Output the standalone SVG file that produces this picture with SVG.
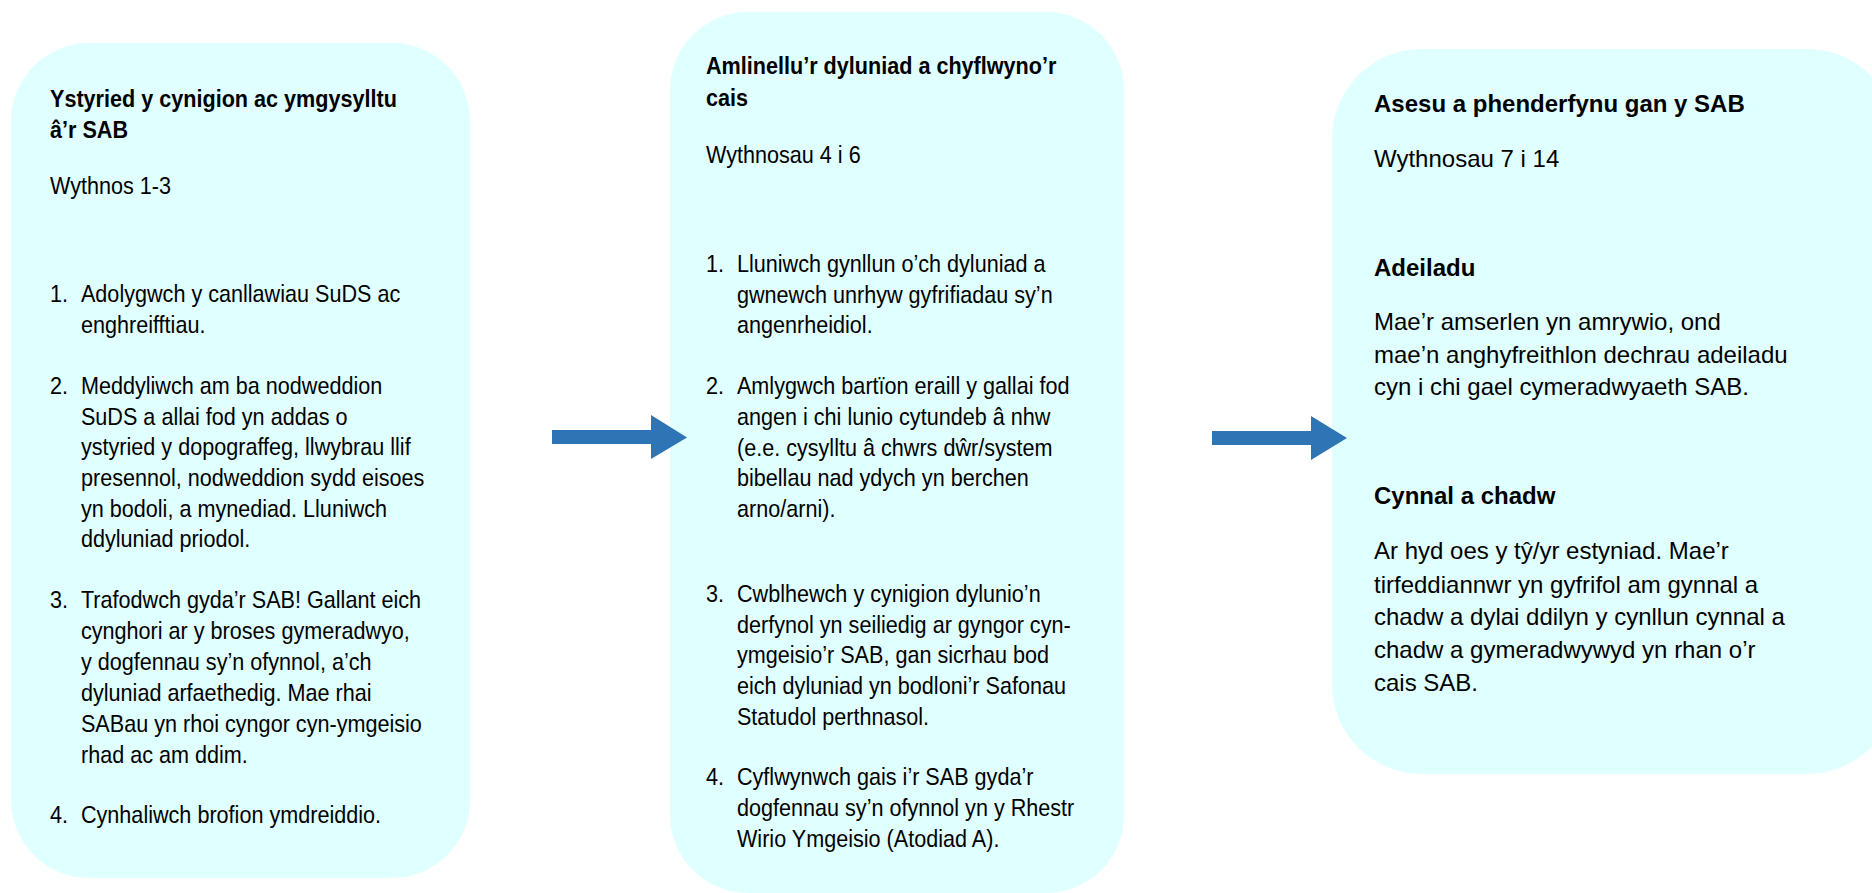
<svg xmlns="http://www.w3.org/2000/svg" width="1872" height="893" viewBox="0 0 1872 893">
<style>
.box{fill:#E0FFFF;stroke:none}
.arrow{fill:#2E75B6;stroke:none}
text{font-family:"Liberation Sans",Arial,sans-serif;font-size:24px;fill:#000}
.b{font-weight:bold}
</style>
<rect x="0" y="0" width="1872" height="893" fill="#fff"/>
<g id="node1">
<rect class="box" x="11" y="43" width="459" height="835" rx="78" ry="78"/>
<g transform="translate(50,0) scale(0.9,1)">
<text class="b" x="0" y="107">Ystyried y cynigion ac ymgysylltu</text>
<text class="b" x="0" y="138">â’r SAB</text>
<text x="0" y="194">Wythnos 1-3</text>
<text x="0" y="302">1.</text>
<text x="34.4" y="302">Adolygwch y canllawiau SuDS ac</text>
<text x="34.4" y="333">enghreifftiau.</text>
<text x="0" y="394">2.</text>
<text x="34.4" y="394">Meddyliwch am ba nodweddion</text>
<text x="34.4" y="425">SuDS a allai fod yn addas o</text>
<text x="34.4" y="455">ystyried y dopograffeg, llwybrau llif</text>
<text x="34.4" y="486">presennol, nodweddion sydd eisoes</text>
<text x="34.4" y="517">yn bodoli, a mynediad. Lluniwch</text>
<text x="34.4" y="547">ddyluniad priodol.</text>
<text x="0" y="608">3.</text>
<text x="34.4" y="608">Trafodwch gyda’r SAB! Gallant eich</text>
<text x="34.4" y="639">cynghori ar y broses gymeradwyo,</text>
<text x="34.4" y="670">y dogfennau sy’n ofynnol, a’ch</text>
<text x="34.4" y="701">dyluniad arfaethedig. Mae rhai</text>
<text x="34.4" y="732">SABau yn rhoi cyngor cyn-ymgeisio</text>
<text x="34.4" y="763">rhad ac am ddim.</text>
<text x="0" y="823">4.</text>
<text x="34.4" y="823">Cynhaliwch brofion ymdreiddio.</text>
</g>
</g>
<g id="node2">
<rect class="box" x="670" y="12" width="454" height="881" rx="78" ry="78"/>
<g transform="translate(706,0) scale(0.9,1)">
<text class="b" x="0" y="74">Amlinellu’r dyluniad a chyflwyno’r</text>
<text class="b" x="0" y="106">cais</text>
<text x="0" y="163">Wythnosau 4 i 6</text>
<text x="0" y="272">1.</text>
<text x="34.4" y="272">Lluniwch gynllun o’ch dyluniad a</text>
<text x="34.4" y="303">gwnewch unrhyw gyfrifiadau sy’n</text>
<text x="34.4" y="333">angenrheidiol.</text>
<text x="0" y="394">2.</text>
<text x="34.4" y="394">Amlygwch bartïon eraill y gallai fod</text>
<text x="34.4" y="425">angen i chi lunio cytundeb â nhw</text>
<text x="34.4" y="456">(e.e. cysylltu â chwrs dŵr/system</text>
<text x="34.4" y="486">bibellau nad ydych yn berchen</text>
<text x="34.4" y="517">arno/arni).</text>
<text x="0" y="602">3.</text>
<text x="34.4" y="602">Cwblhewch y cynigion dylunio’n</text>
<text x="34.4" y="633">derfynol yn seiliedig ar gyngor cyn-</text>
<text x="34.4" y="663">ymgeisio’r SAB, gan sicrhau bod</text>
<text x="34.4" y="694">eich dyluniad yn bodloni’r Safonau</text>
<text x="34.4" y="725">Statudol perthnasol.</text>
<text x="0" y="785">4.</text>
<text x="34.4" y="785">Cyflwynwch gais i’r SAB gyda’r</text>
<text x="34.4" y="816">dogfennau sy’n ofynnol yn y Rhestr</text>
<text x="34.4" y="847">Wirio Ymgeisio (Atodiad A).</text>
</g>
</g>
<g id="node3">
<rect class="box" x="1332" y="49" width="565" height="725" rx="90" ry="90"/>
<text class="b" x="1374" y="112">Asesu a phenderfynu gan y SAB</text>
<text x="1374" y="167">Wythnosau 7 i 14</text>
<text class="b" x="1374" y="276">Adeiladu</text>
<text x="1374" y="330">Mae’r amserlen yn amrywio, ond</text>
<text x="1374" y="363">mae’n anghyfreithlon dechrau adeiladu</text>
<text x="1374" y="395">cyn i chi gael cymeradwyaeth SAB.</text>
<text class="b" x="1374" y="504">Cynnal a chadw</text>
<text x="1374" y="559">Ar hyd oes y tŷ/yr estyniad. Mae’r</text>
<text x="1374" y="593">tirfeddiannwr yn gyfrifol am gynnal a</text>
<text x="1374" y="625">chadw a dylai ddilyn y cynllun cynnal a</text>
<text x="1374" y="658">chadw a gymeradwywyd yn rhan o’r</text>
<text x="1374" y="691">cais SAB.</text>
</g>
<g id="connectors">
<polygon class="arrow" points="552,430 651,430 651,415 687,437.5 651,459 651,444 552,444"/>
<polygon class="arrow" points="1212,431 1311,431 1311,416 1347,438 1311,460 1311,445 1212,445"/>
</g>
</svg>
